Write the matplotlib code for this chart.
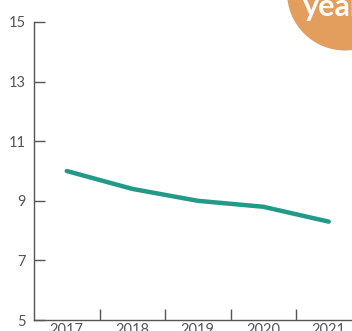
import matplotlib.pyplot as plt
from matplotlib.patches import Circle

years = ["2017", "2018", "2019", "2020", "2021"]
values = [10.0, 9.4, 9.0, 8.8, 8.3]
y_ticks = [5, 7, 9, 11, 13, 15]

fig = plt.figure(figsize=(3.52, 3.31), dpi=100)
ax = fig.add_axes([34 / 352, 11 / 331, 327.5 / 352, 298 / 331])

pos = list(range(len(years)))
ax.plot(pos, values, color="#239a87", linewidth=3.2, solid_capstyle="round",
        solid_joinstyle="round")

ax.set_xlim(-0.5, len(years) - 0.5)
ax.set_ylim(5, 15)

# band boundaries as major ticks, year labels in the band centres
ax.set_xticks([p + 0.5 for p in pos[:-1]])
ax.set_xticklabels([])
ax.set_xticks(pos, minor=True)
ax.set_xticklabels(years, minor=True)
ax.tick_params(axis="x", which="major", direction="in", length=8, width=1,
               color="#555555")
ax.tick_params(axis="x", which="minor", length=0, pad=2, labelsize=10.5,
               labelcolor="#555555")

ax.set_yticks(y_ticks)
ax.tick_params(axis="y", direction="in", length=8, width=1, color="#555555",
               pad=6, labelsize=10.5, labelcolor="#555555")

for lab in ax.get_xticklabels(minor=True) + ax.get_yticklabels():
    lab.set_family("Lato")
    lab.set_fontweight("normal")

for side in ["top", "right"]:
    ax.spines[side].set_visible(False)
for side in ["left", "bottom"]:
    ax.spines[side].set_color("#555555")
    ax.spines[side].set_linewidth(1)

# orange badge in the corner
circ = Circle((3.45, 3.385), 0.58, transform=fig.dpi_scale_trans,
              facecolor="#e39e5e", edgecolor="none", zorder=5)
fig.patches.append(circ)
fig.text(303 / 352, 315 / 331, "years", color="white", fontsize=22,
         fontweight="bold", family="Lato", ha="left", va="baseline", zorder=6)

fig.savefig("out.png", dpi=100)
